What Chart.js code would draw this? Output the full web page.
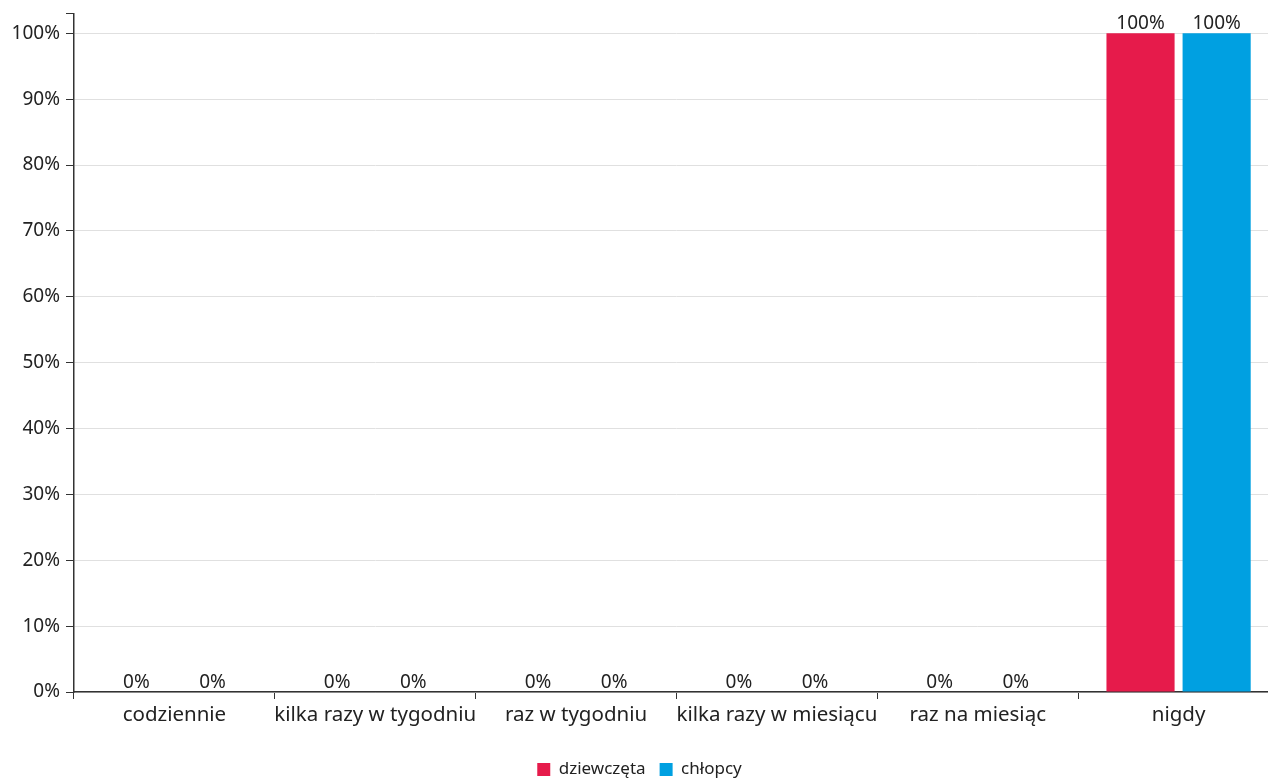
<!DOCTYPE html>
<html>
<head>
<meta charset="utf-8">
<script src="https://cdn.jsdelivr.net/npm/chart.js@4"></script>
<style>
    html, body { margin: 0; padding: 0; overflow: hidden; background: #fff; }
    #wrap { width: 1279px; height: 781px; position: relative; }
</style>
</head>
<body>
<div id="wrap"><canvas id="chart"></canvas></div>
<script>
const categories = ["codziennie", "kilka razy w tygodniu", "raz w tygodniu", "kilka razy w miesiącu", "raz na miesiąc", "nigdy"];
const girls = [0, 0, 0, 0, 0, 100];
const boys = [0, 0, 0, 0, 0, 100];
const yTicks = [0, 10, 20, 30, 40, 50, 60, 70, 80, 90, 100];
const yMax = 103;

const FONT = "'Noto Sans', sans-serif";
const TEXT = "#222";

// draws the "0%" / "100%" labels over each bar
const valueLabels = {
    id: "valueLabels",
    afterDatasetsDraw(chart) {
        const ctx = chart.ctx;
        ctx.save();
        ctx.font = "19px " + FONT;
        ctx.fillStyle = TEXT;
        ctx.textAlign = "center";
        ctx.textBaseline = "bottom";
        chart.data.datasets.forEach((ds, i) => {
            chart.getDatasetMeta(i).data.forEach((bar, j) => {
                ctx.fillText(ds.data[j] + "%", bar.x, bar.y);
            });
        });
        ctx.restore();
    }
};

new Chart(document.getElementById("chart"), {
    type: "bar",
    data: {
        labels: categories,
        datasets: [
            { label: "dziewczęta", data: girls, backgroundColor: "#e61b4b" },
            { label: "chłopcy", data: boys, backgroundColor: "#00a0e1" }
        ]
    },
    options: {
        responsive: true,
        maintainAspectRatio: false,
        animation: false,
        categoryPercentage: 0.758,
        barPercentage: 0.895,
        layout: { padding: { top: 0, right: 0, left: 0, bottom: -7 } },
        plugins: {
            tooltip: { enabled: false },
            legend: {
                position: "bottom",
                labels: {
                    font: { family: FONT, size: 17 },
                    color: TEXT,
                    boxWidth: 13,
                    boxHeight: 13,
                    padding: 14
                }
            }
        },
        scales: {
            x: {
                offset: true,
                grid: { offset: true, drawOnChartArea: false, tickLength: 7, color: "#333" },
                border: { color: "#333", width: 1.5 },
                ticks: { font: { family: FONT, size: 20.5 }, color: TEXT, padding: 4, maxRotation: 0, autoSkip: false },
                afterFit(scale) { scale.height = 55; }
            },
            y: {
                min: 0,
                max: yMax,
                afterBuildTicks(scale) {
                    scale.ticks = yTicks.concat([yMax]).map(v => ({ value: v }));
                },
                afterFit(scale) { scale.width = 74; },
                grid: {
                    tickLength: 8,
                    color: c => (c.tick && c.tick.value > 100) ? "rgba(0,0,0,0)" : "#e0e0e0",
                    tickColor: "#333"
                },
                border: { color: "#333", width: 1.5 },
                ticks: {
                    font: { family: FONT, size: 19, lineHeight: 0.8 },
                    color: TEXT,
                    padding: 6,
                    callback: v => v > 100 ? "" : v + "%"
                }
            }
        }
    },
    plugins: [valueLabels]
});
</script>
</body>
</html>
